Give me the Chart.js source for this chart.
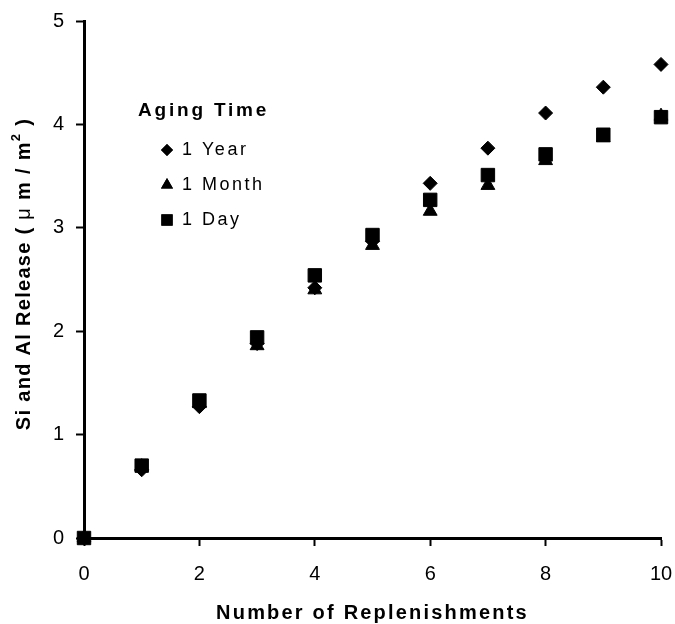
<!DOCTYPE html>
<html>
<head>
<meta charset="utf-8">
<script src="https://cdn.jsdelivr.net/npm/chart.js@4/dist/chart.umd.min.js"></script>
<style>
  html, body { margin: 0; padding: 0; background: #fff; }
  #wrap { width: 675px; height: 624px; }
</style>
</head>
<body>
<div id="wrap"><canvas id="releaseChart" width="675" height="624"></canvas></div>
<script>
// replenishment number and release (um/m2) for each aging time
const replenishments = [0, 1, 2, 3, 4, 5, 6, 7, 8, 9, 10];
const oneYear  = [0, 0.66, 1.27, 1.88, 2.42, 2.87, 3.43, 3.77, 4.11, 4.36, 4.58];
const oneMonth = [0, 0.69, 1.30, 1.86, 2.40, 2.83, 3.16, 3.41, 3.65, 3.87, 4.08];
const oneDay   = [0, 0.70, 1.33, 1.94, 2.54, 2.93, 3.27, 3.51, 3.71, 3.90, 4.07];
const xTicks = [0, 2, 4, 6, 8, 10];
const yTicks = [0, 1, 2, 3, 4, 5];

const FONT = "'Liberation Sans', Arial, sans-serif";

function toPoints(vals) {
  return replenishments.map((x, i) => ({ x: x, y: vals[i] }));
}

// legend entries, same order as on the plot
const legendItems = [
  { label: '1 Year', style: 'rectRot', r: 6 },
  { label: '1 Month', style: 'triangle', r: 7 },
  { label: '1 Day', style: 'rect', r: 8 }
];

// axis titles + legend box drawn by hand (letter spaced, superscript)
const decorations = {
  id: 'decorations',
  afterDraw(chart) {
    const ctx = chart.ctx;
    const area = chart.chartArea;
    ctx.save();
    ctx.fillStyle = '#000';

    // x title
    ctx.font = 'bold 20px ' + FONT;
    ctx.letterSpacing = '2.2px';
    ctx.textAlign = 'center';
    ctx.textBaseline = 'middle';
    ctx.fillText('Number of Replenishments', (area.left + area.right) / 2, 613);

    // y title, rotated, pieces with mixed weight
    ctx.letterSpacing = '1.3px';
    const parts = [
      { t: 'Si and Al Release ( ', f: 'bold 20px ' + FONT, dy: 0 },
      { t: 'μ', f: '20px ' + FONT, dy: 0 },
      { t: ' m / m', f: 'bold 20px ' + FONT, dy: 0 },
      { t: '2', f: 'bold 13px ' + FONT, dy: -8 },
      { t: ' )', f: 'bold 20px ' + FONT, dy: 0 }
    ];
    let total = 0;
    parts.forEach(p => { ctx.font = p.f; p.w = ctx.measureText(p.t).width; total += p.w; });
    ctx.translate(24, 274);
    ctx.rotate(-Math.PI / 2);
    ctx.textAlign = 'left';
    let px = -total / 2;
    parts.forEach(p => {
      ctx.font = p.f;
      ctx.fillText(p.t, px, p.dy);
      px += p.w;
    });
    ctx.setTransform(1, 0, 0, 1, 0, 0);

    // legend
    ctx.font = 'bold 19px ' + FONT;
    ctx.letterSpacing = '2.8px';
    ctx.textAlign = 'left';
    ctx.fillText('Aging Time', 138, 111);
    ctx.font = '18px ' + FONT;
    ctx.letterSpacing = '2.5px';
    legendItems.forEach((it, i) => {
      const y = 150 + i * 35;
      Chart.helpers.drawPoint(ctx, { pointStyle: it.style, radius: it.r, borderWidth: 0, rotation: 0 }, 167, y);
      ctx.fill();
      ctx.fillText(it.label, 182, y);
    });
    ctx.restore();
  }
};

const markerBase = {
  showLine: false,
  backgroundColor: '#000',
  borderColor: '#000',
  pointBorderWidth: 1,
  clip: false
};

new Chart(document.getElementById('releaseChart'), {
  type: 'scatter',
  data: {
    datasets: [
      Object.assign({ label: '1 Day', data: toPoints(oneDay), pointStyle: 'rect', pointRadius: 9.5, order: 0 }, markerBase),
      Object.assign({ label: '1 Month', data: toPoints(oneMonth), pointStyle: 'triangle', pointRadius: 8, order: 1 }, markerBase),
      Object.assign({ label: '1 Year', data: toPoints(oneYear), pointStyle: 'rectRot', pointRadius: 7, order: 2 }, markerBase)
    ]
  },
  options: {
    responsive: false,
    animation: false,
    layout: { padding: { top: 21, right: 14, left: 0, bottom: 0 } },
    plugins: { legend: { display: false }, tooltip: { enabled: false } },
    scales: {
      x: {
        type: 'linear',
        min: 0,
        max: 10,
        afterBuildTicks: s => { s.ticks = xTicks.map(v => ({ value: v })); },
        // fixed box: keep the axis ends where the layout padding puts them
        afterFit: s => { s.height = 86; s.paddingLeft = 0; s.paddingRight = 0; },
        grid: { display: true, drawOnChartArea: false, drawTicks: true, tickLength: 8, tickWidth: 2, tickColor: '#000' },
        border: { display: true, color: '#000', width: 3 },
        ticks: { color: '#000', font: { family: FONT, size: 20 }, padding: 16, maxRotation: 0 }
      },
      y: {
        type: 'linear',
        min: 0,
        max: 5,
        afterBuildTicks: s => { s.ticks = yTicks.map(v => ({ value: v })); },
        afterFit: s => { s.width = 84; s.paddingTop = 0; s.paddingBottom = 0; },
        grid: { display: true, drawOnChartArea: false, drawTicks: true, tickLength: 8, tickWidth: 2, tickColor: '#000' },
        border: { display: true, color: '#000', width: 3 },
        ticks: { color: '#000', font: { family: FONT, size: 20 }, padding: 12 }
      }
    }
  },
  plugins: [decorations]
});
</script>
</body>
</html>
